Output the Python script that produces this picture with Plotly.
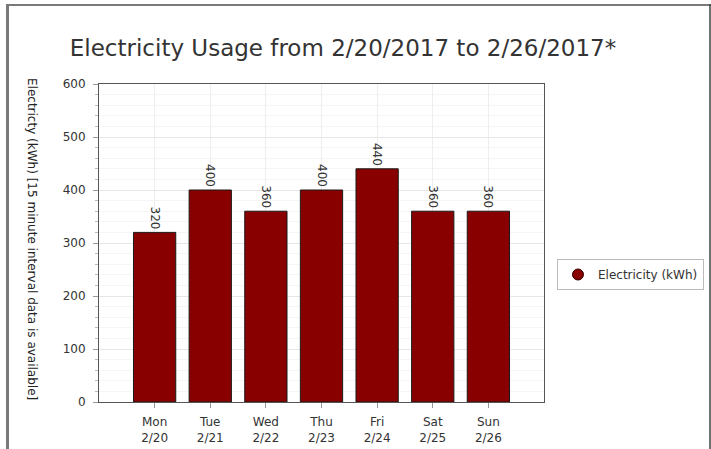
import plotly.graph_objects as go

days = ["Mon<br>2/20", "Tue<br>2/21", "Wed<br>2/22", "Thu<br>2/23", "Fri<br>2/24", "Sat<br>2/25", "Sun<br>2/26"]
usage = [320, 400, 360, 400, 440, 360, 360]
series_name = "Electricity (kWh)"
title_text = "Electricity Usage from 2/20/2017 to 2/26/2017*"
y_title = "Electricty (kWh) [15 minute interval data is available]"

W, H = 711, 449
L, R, T, B = 99, 544, 84, 402
FONT = "Verdana, DejaVu Sans, sans-serif"


def px(x):
    return (x - L) / (R - L)


def py(y):
    return (B - y) / (B - T)


fig = go.Figure()
fig.add_trace(go.Bar(
    x=days, y=usage, name=series_name, showlegend=False,
    marker=dict(color="#880000", line=dict(color="#1a1a1a", width=1)),
    width=0.76,
    text=[str(v) for v in usage], textposition="outside", textangle=90,
    textfont=dict(family=FONT, size=12, color="#333333"),
    cliponaxis=False,
))
fig.add_trace(go.Scatter(
    x=[None], y=[None], mode="markers", name=series_name,
    marker=dict(symbol="circle", size=11, color="#880000", line=dict(color="#330000", width=1)),
))

shapes = [
    dict(type="line", xref="paper", yref="paper", x0=px(6), x1=px(711), y0=py(5), y1=py(5),
         line=dict(color="#7a7a7a", width=2)),
    dict(type="line", xref="paper", yref="paper", x0=px(7.5), x1=px(7.5), y0=py(4), y1=py(449),
         line=dict(color="#7a7a7a", width=3)),
    dict(type="line", xref="paper", yref="paper", x0=px(710), x1=px(710), y0=py(4), y1=py(449),
         line=dict(color="#444444", width=1.5)),
]

fig.update_layout(
    width=W, height=H,
    margin=dict(l=L, r=W - R, t=T, b=H - B, pad=0, autoexpand=False),
    paper_bgcolor="white", plot_bgcolor="white",
    font=dict(family=FONT, size=12, color="#333333"),
    title=dict(text=title_text, xref="container", x=343 / W, xanchor="center",
               yref="container", y=1 - 48 / H, yanchor="middle",
               font=dict(family=FONT, size=23, color="#333333")),
    bargap=0.24,
    xaxis=dict(
        type="category", range=[-1, 7], automargin=False,
        showgrid=True, gridcolor="#eeeeee", gridwidth=1,
        ticks="outside", ticklen=5, tickcolor="#999999",
        showline=True, linecolor="#555555", linewidth=1, mirror=True,
        tickfont=dict(family=FONT, size=12, color="#333333"),
        zeroline=False, ticklabelstandoff=4,
    ),
    yaxis=dict(
        range=[0, 600], dtick=100, tick0=0, automargin=False,
        showgrid=True, gridcolor="#e6e6e6", gridwidth=1,
        ticks="outside", ticklen=5, tickcolor="#999999",
        minor=dict(dtick=20, showgrid=True, gridcolor="#f5f5f5", ticks="outside", ticklen=3, tickcolor="#bbbbbb"),
        showline=True, linecolor="#555555", linewidth=1, mirror=True,
        tickfont=dict(family=FONT, size=12, color="#333333"),
        zeroline=False, ticklabelstandoff=5,
    ),
    legend=dict(
        xref="container", yref="container",
        x=557 / W, y=1 - 274.5 / H, xanchor="left", yanchor="middle",
        bordercolor="#bbbbbb", borderwidth=1, bgcolor="white",
        font=dict(family=FONT, size=12, color="#333333"),
        itemwidth=30,
    ),
    shapes=shapes,
    annotations=[dict(
        text=y_title, xref="paper", yref="paper", x=px(32), y=py(239),
        xanchor="center", yanchor="middle", showarrow=False, textangle=90,
        font=dict(family=FONT, size=12, color="#222222"),
    )],
)

fig.write_html("out.html")
